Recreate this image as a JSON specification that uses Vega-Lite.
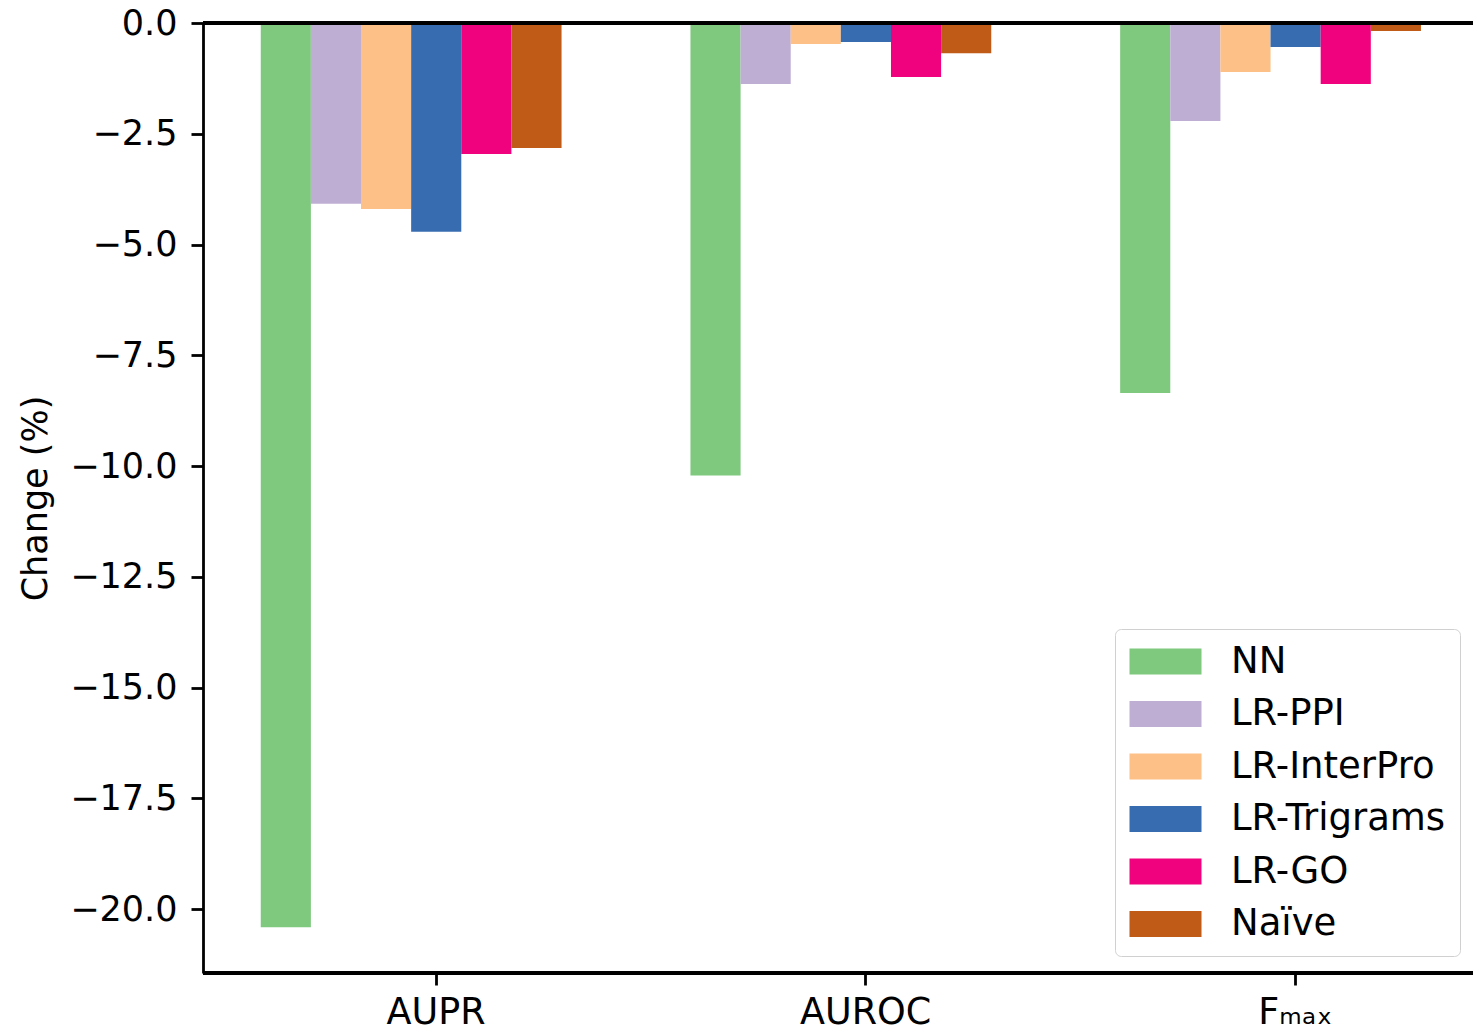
{
  "$schema": "https://vega.github.io/schema/vega-lite/v6.json",
  "autosize": "none",
  "width": 1270,
  "height": 950,
  "padding": {"left": 203, "top": 23, "right": 0, "bottom": 60},
  "background": "white",
  "config": {
    "view": {"stroke": null},
    "font": "DejaVu Sans",
    "axis": {
      "labelFont": "DejaVu Sans",
      "titleFont": "DejaVu Sans",
      "labelFontSize": 35,
      "titleFontSize": 35,
      "titleFontWeight": "normal",
      "labelColor": "black",
      "titleColor": "black",
      "domainColor": "black",
      "tickColor": "black",
      "domainWidth": 2.8,
      "tickWidth": 2.8,
      "tickSize": 12,
      "grid": false
    }
  },
  "data": {
    "values": [
      {"metric": "AUPR", "method": "NN", "change": -20.41},
      {"metric": "AUPR", "method": "LR-PPI", "change": -4.08},
      {"metric": "AUPR", "method": "LR-InterPro", "change": -4.20},
      {"metric": "AUPR", "method": "LR-Trigrams", "change": -4.71},
      {"metric": "AUPR", "method": "LR-GO", "change": -2.955},
      {"metric": "AUPR", "method": "Naïve", "change": -2.82},
      {"metric": "AUROC", "method": "NN", "change": -10.21},
      {"metric": "AUROC", "method": "LR-PPI", "change": -1.376},
      {"metric": "AUROC", "method": "LR-InterPro", "change": -0.474},
      {"metric": "AUROC", "method": "LR-Trigrams", "change": -0.43},
      {"metric": "AUROC", "method": "LR-GO", "change": -1.22},
      {"metric": "AUROC", "method": "Naïve", "change": -0.68},
      {"metric": "Fₘₐₓ", "method": "NN", "change": -8.35},
      {"metric": "Fₘₐₓ", "method": "LR-PPI", "change": -2.21},
      {"metric": "Fₘₐₓ", "method": "LR-InterPro", "change": -1.105},
      {"metric": "Fₘₐₓ", "method": "LR-Trigrams", "change": -0.54},
      {"metric": "Fₘₐₓ", "method": "LR-GO", "change": -1.376},
      {"metric": "Fₘₐₓ", "method": "Naïve", "change": -0.18}
    ]
  },
  "layer": [
    {
      "mark": {"type": "bar", "cornerRadius": 0},
      "encoding": {
        "x": {
          "field": "metric",
          "type": "nominal",
          "sort": ["AUPR", "AUROC", "Fₘₐₓ"],
          "scale": {"range": [18.15, 1307.25], "paddingInner": 0, "paddingOuter": 0},
          "axis": {"title": null, "labelAngle": 0, "labelPadding": 9, "labelFontSize": 36.5, "domain": false}
        },
        "xOffset": {
          "field": "method",
          "type": "nominal",
          "sort": ["NN", "LR-PPI", "LR-InterPro", "LR-Trigrams", "LR-GO", "Naïve"],
          "scale": {"range": [39.6, 340.4], "paddingInner": 0, "paddingOuter": 0}
        },
        "y": {
          "field": "change",
          "type": "quantitative",
          "scale": {"domain": [-21.44, 0], "nice": false, "zero": false},
          "axis": {
            "title": "Change (%)",
            "values": [0, -2.5, -5, -7.5, -10, -12.5, -15, -17.5, -20],
            "format": ".1f",
            "labelPadding": 14,
            "titlePadding": 16
          }
        },
        "color": {
          "field": "method",
          "type": "nominal",
          "sort": ["NN", "LR-PPI", "LR-InterPro", "LR-Trigrams", "LR-GO", "Naïve"],
          "scale": {
            "domain": ["NN", "LR-PPI", "LR-InterPro", "LR-Trigrams", "LR-GO", "Naïve"],
            "range": ["#7fc97f", "#beaed4", "#fdc086", "#386cb0", "#f0027f", "#bf5b17"]
          },
          "legend": {
            "title": null,
            "orient": "none",
            "legendX": 912,
            "legendY": 606,
            "symbolType": "M-1,-0.72H3V0.72H-1Z",
            "symbolSize": 1296,
            "symbolStrokeWidth": 0,
            "symbolOpacity": 1,
            "labelFont": "DejaVu Sans",
            "labelFontSize": 37,
            "labelColor": "black",
            "labelOffset": 65,
            "labelLimit": 500,
            "rowPadding": 14.5,
            "padding": 14,
            "cornerRadius": 6,
            "strokeColor": "#d0d0d0",
            "fillColor": "rgba(255,255,255,0.8)"
          }
        }
      }
    },
    {
      "mark": {"type": "rule", "color": "black", "strokeWidth": 2.8},
      "encoding": {"y": {"datum": 0}}
    },
    {
      "mark": {"type": "rule", "color": "black", "strokeWidth": 2.8},
      "encoding": {"y": {"datum": -21.44}}
    }
  ]
}
